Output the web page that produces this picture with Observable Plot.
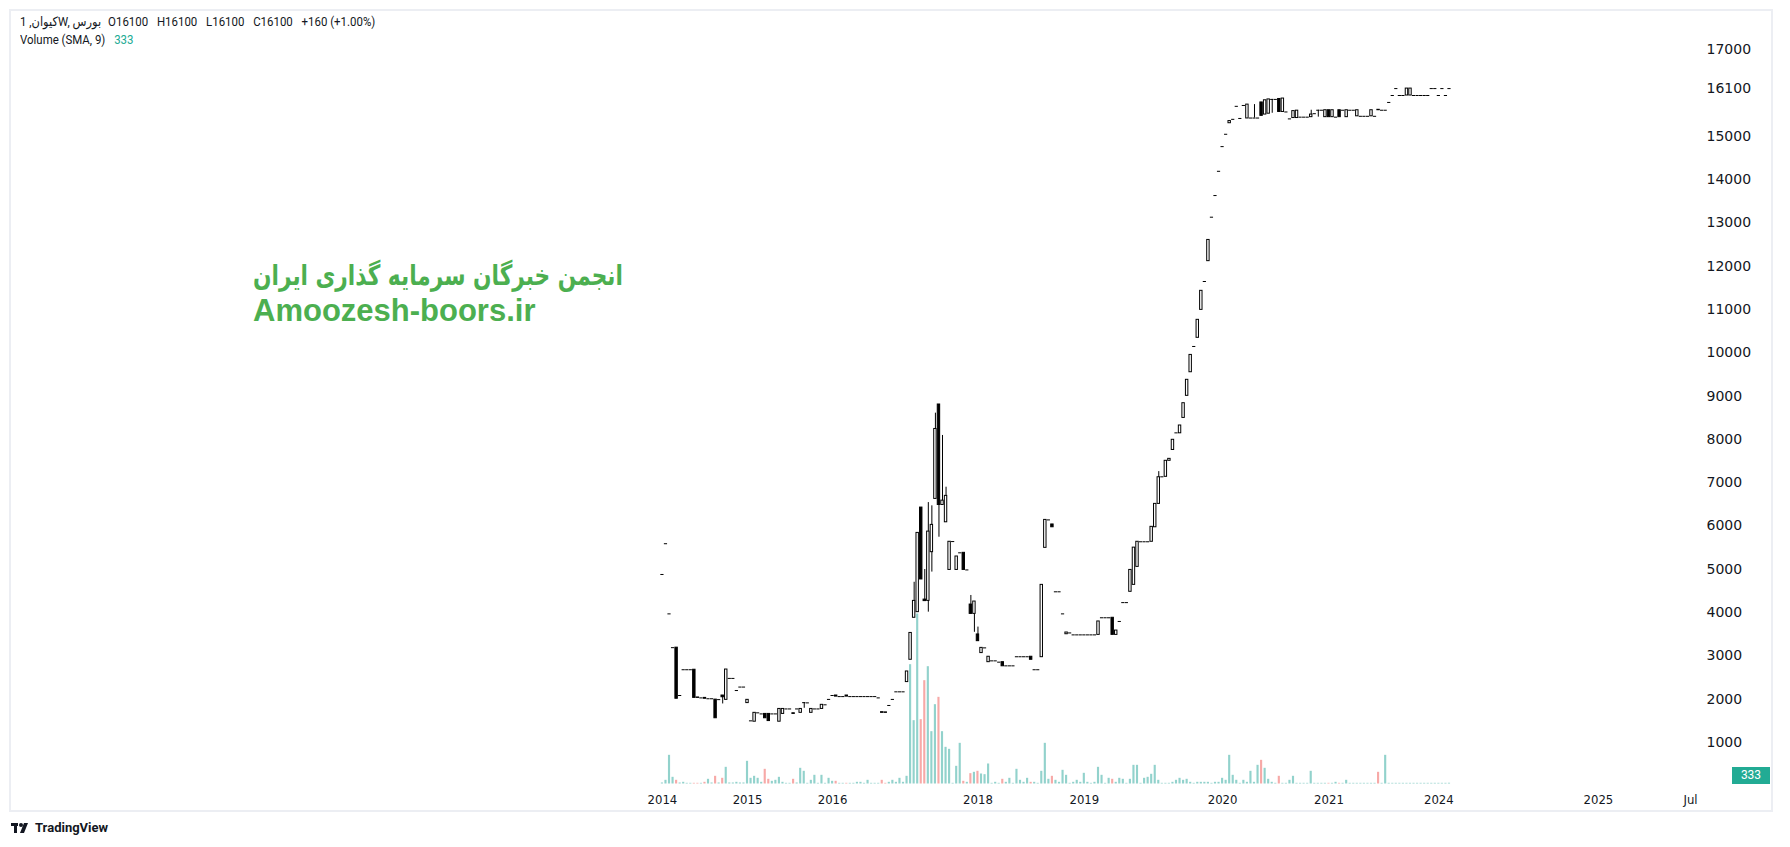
<!DOCTYPE html>
<html><head><meta charset="utf-8">
<script src="https://cdn.jsdelivr.net/npm/d3@7"></script>
<script src="https://cdn.jsdelivr.net/npm/@observablehq/plot@0.6"></script>
<style>
html,body{margin:0;padding:0;background:#fff;width:1790px;height:847px;overflow:hidden;}
#wrap{position:relative;width:1790px;height:847px;font-family:Roboto,"Liberation Sans",sans-serif;color:#131722;}
#frame{position:absolute;left:9px;top:9px;width:1764px;height:803px;border:2px solid #eceef3;box-sizing:border-box;}
#chart{position:absolute;left:0;top:0;}
.hdr{position:absolute;left:20px;font-size:13px;white-space:nowrap;color:#131722;transform:scaleX(0.88);transform-origin:0 0;}
.hdr span{unicode-bidi:isolate;}
.hdr .v{margin-left:10px;}
.ar{font-family:"DejaVu Sans",sans-serif;}
.wm{position:absolute;color:#4caf50;font-weight:bold;white-space:nowrap;}
#badge{position:absolute;left:1732px;top:767px;width:38px;height:17px;background:#22ab94;color:#fff;font-size:12px;line-height:17px;text-align:center;}
#logo{position:absolute;left:11px;top:820px;font-size:13px;font-weight:bold;color:#131722;display:flex;align-items:center;gap:4px;}
</style></head>
<body><div id="wrap">
<div id="frame"></div>
<div id="chart"></div>
<div class="hdr" style="top:14px"><span>1 ,</span><span class="ar">کیوان</span><span>W, </span><span class="ar">بورس</span><span class="v" style="margin-left:8px">O16100</span><span class="v">H16100</span><span class="v">L16100</span><span class="v">C16100</span><span class="v">+160</span> <span>(+1.00%)</span></div>
<div class="hdr" style="top:32px">Volume (SMA, 9)<span style="color:#22ab94;margin-left:10px">333</span></div>
<div class="wm" style="left:253px;top:259px;font-size:28px;font-family:'DejaVu Sans Condensed','DejaVu Sans',sans-serif;transform:scaleX(0.86);transform-origin:0 0;">انجمن خبرگان سرمایه گذاری ایران</div>
<div class="wm" style="left:253px;top:293px;font-size:31px;font-family:'Liberation Sans',sans-serif;">Amoozesh-boors.ir</div>
<div id="badge">333</div>
<div id="logo"><svg width="20" height="12" viewBox="0 0 20 12"><rect x="0" y="1" width="7" height="3" fill="#131722"/><rect x="3" y="1" width="3" height="10" fill="#131722"/><circle cx="10" cy="3" r="2" fill="#131722"/><path d="M13 1h4l-4 10h-4z" fill="#131722"/></svg><span>TradingView</span></div>
</div>
<script>
// Weekly bars (index = bar number, gaps in trading are skipped like the source chart)
const open = [4880,5590,3970,3190,3190,2085,2680,2680,2680,2680,2040,2030,2030,2010,2010,1990,1990,2085,1985,2480,2480,2200,2280,2280,1910,1500,1480,1685,1660,1660,1660,1660,1660,1480,1660,1775,1775,1675,1775,1685,1920,1915,1685,1775,1775,1775,1870,1995,2085,2085,2060,2060,2085,2060,2060,2060,2060,2060,2060,2060,2060,2030,1700,1695,1855,1995,2170,2170,2170,2395,2910,3880,4010,6425,4300,4270,5395,6625,8805,6485,6085,4985,5640,4985,5380,5380,4985,4185,3970,3495,3065,3185,2855,2885,2885,2855,2855,2770,2770,2770,2980,2980,2980,2980,2980,2680,2680,2970,5495,6140,6035,4480,4480,3970,3500,3530,3485,3485,3485,3485,3485,3485,3485,3485,3880,3880,3880,3880,3485,3795,4230,4230,4480,4640,5055,5635,5635,5635,5635,5970,6510,7135,7135,7505,7755,8150,8140,8495,9005,9550,10145,10345,10990,11645,12115,13130,13630,14190,14760,15045,15300,15390,15690,15410,15710,15410,15420,15420,15420,15780,15500,15520,15850,15850,15860,15560,15560,15400,15420,15420,15440,15440,15440,15440,15520,15600,15600,15440,15600,15440,15440,15600,15600,15440,15600,15600,15460,15460,15460,15460,15460,15460,15610,15600,15600,15780,15940,16100,15940,15940,15940,15940,15940,15940,15940,15940,15940,16100,16100,15940,16100,15940,16100];
const high = [4880,5590,3970,3190,3190,2085,2680,2680,2680,2680,2040,2030,2030,2010,2010,1990,1990,2085,2685,2480,2480,2200,2280,2280,1985,1500,1685,1685,1660,1660,1660,1660,1660,1775,1775,1775,1775,1675,1775,1775,1920,1915,1775,1775,1775,1870,1870,1995,2085,2085,2060,2060,2085,2060,2060,2060,2060,2060,2060,2060,2060,2030,1700,1695,1855,1995,2170,2170,2170,2640,3530,4700,5840,6425,4995,6540,6465,8605,8805,8090,6895,5635,5640,5295,5380,5380,4985,4395,4255,3665,3185,3185,2980,2885,2885,2855,2855,2770,2770,2770,2980,2980,2980,2980,2980,2680,2680,4640,6140,6140,6035,4480,4480,3970,3540,3530,3485,3485,3485,3485,3485,3485,3485,3795,3880,3880,3880,3880,3585,3795,4230,4230,4995,5500,5635,5635,5635,5635,5980,6510,7255,7135,7505,7550,7990,8150,8320,8835,9375,9950,10145,10760,11430,11645,12605,13130,13630,14190,14760,15045,15350,15390,15690,15410,15710,15730,15420,15730,15420,15780,15830,15850,15850,15850,15860,15870,15560,15400,15580,15590,15440,15440,15440,15600,15520,15600,15600,15600,15600,15600,15440,15600,15600,15600,15600,15600,15600,15460,15460,15460,15600,15460,15610,15600,15600,15780,15940,16100,15940,15940,16100,16100,15940,15940,15940,15940,15940,16100,16100,15940,16100,15940,16100];
const low = [4880,5590,3970,3190,2010,2085,2680,2680,2680,2030,2030,2030,2010,2010,2010,1560,1990,1890,1985,2480,2480,2200,2280,2280,1910,1500,1480,1685,1660,1560,1495,1660,1660,1480,1660,1775,1775,1660,1775,1685,1790,1915,1685,1775,1775,1775,1870,1995,2085,2060,2060,2060,2060,2060,2060,2060,2060,2060,2060,2060,2060,2030,1685,1685,1855,1995,2170,2170,2170,2395,2910,3880,4010,4765,4265,4010,4935,6625,5740,6485,6085,4985,5640,4985,5380,4985,4985,3970,3545,3340,3065,3185,2855,2885,2885,2855,2760,2770,2770,2770,2980,2980,2980,2980,2910,2680,2680,2970,5495,6140,5970,4480,4480,3970,3500,3530,3485,3485,3485,3485,3485,3485,3485,3485,3880,3880,3880,3485,3485,3795,4230,4230,4480,4640,5055,5635,5635,5635,5635,5970,6510,7135,7135,7505,7755,8150,8140,8495,9005,9550,10145,10345,10990,11645,12115,13130,13630,14190,14760,15045,15300,15390,15690,15410,15710,15410,15420,15420,15420,15470,15500,15520,15530,15850,15560,15560,15560,15400,15420,15420,15440,15440,15440,15440,15520,15440,15600,15440,15440,15440,15440,15440,15600,15440,15600,15600,15460,15460,15460,15460,15460,15460,15600,15600,15600,15780,15940,16100,15940,15940,15940,15940,15940,15940,15940,15940,15940,16100,16100,15940,16100,15940,16100];
const close = [4880,5590,3970,3190,2010,2085,2680,2680,2680,2030,2030,2030,2010,2010,2010,1560,1990,2045,2685,2480,2480,2200,2280,2280,1985,1500,1685,1685,1660,1560,1495,1660,1660,1775,1775,1775,1775,1660,1775,1775,1920,1915,1775,1775,1775,1870,1870,1995,2085,2060,2060,2060,2060,2060,2060,2060,2060,2060,2060,2060,2060,2030,1685,1685,1855,1995,2170,2170,2170,2640,3530,4270,5840,4765,4265,5870,6025,8240,6485,6585,6695,5635,5640,5295,5380,4985,4985,3970,4255,3340,3185,3185,2980,2885,2885,2855,2760,2770,2770,2770,2980,2980,2980,2980,2910,2680,2680,4640,6140,6140,5970,4480,4480,3970,3540,3530,3485,3485,3485,3485,3485,3485,3485,3795,3880,3880,3880,3485,3585,3795,4230,4230,4985,5500,5635,5635,5635,5635,5980,6510,7125,7135,7505,7550,7990,8150,8320,8835,9375,9950,10145,10760,11430,11645,12605,13130,13630,14190,14760,15045,15350,15390,15690,15410,15710,15730,15420,15420,15420,15470,15830,15850,15850,15850,15560,15870,15560,15400,15580,15590,15440,15440,15440,15500,15520,15600,15600,15600,15440,15600,15440,15440,15600,15600,15600,15600,15600,15460,15460,15460,15600,15460,15600,15600,15600,15780,15940,16100,15940,15940,16100,16100,15940,15940,15940,15940,15940,16100,16100,15940,16100,15940,16100];
const volume = [450,1650,12900,3000,1650,450,750,300,300,300,300,300,750,2100,450,3450,450,2550,7500,450,450,750,450,450,10200,2550,3450,2550,750,6600,2100,1200,1650,3000,750,300,300,2100,450,7050,5700,300,1650,3900,300,3900,300,2550,1200,1200,300,300,300,300,300,750,750,300,1650,300,300,300,1650,300,750,1650,750,2550,750,3450,53700,28500,76500,28950,46500,52800,23550,35700,39000,23550,16500,15600,300,7950,18300,1200,750,4650,5250,5700,4500,4200,9000,300,750,300,2100,750,2550,300,6600,1650,750,2550,750,750,300,5700,18300,2100,3450,1650,750,6150,3900,300,750,1650,750,4800,750,300,750,7500,3900,300,2550,2100,750,2550,2100,300,2100,8400,8400,300,2550,3000,4350,8400,1650,300,300,300,750,1650,2550,1650,2100,750,300,750,750,750,750,300,750,750,2550,1650,12900,3900,1650,300,1650,750,5700,750,8400,10650,7050,2100,750,300,3450,300,300,1650,3450,300,300,300,300,5700,300,300,300,300,300,300,750,300,300,1650,300,300,300,300,300,300,300,300,5250,300,12900,300,300,300,300,300,300,300,300,300,300,300,300,300,300,300,300,300,333];
// time-axis labels (bar index where each label sits)
const tickIdx = [0,24,48,89,119,158,188,219,264,290];
const tickLabels = ["2014","2015","2016","2018","2019","2020","2021","2024","2025","Jul"];
// price-axis labels
const priceTicks = [1000,2000,3000,4000,5000,6000,7000,8000,9000,10000,11000,12000,13000,14000,15000,16100,17000];

const bars = open.map((o,i)=>({i, o, h: high[i], l: low[i], c: close[i], v: volume[i]}));
const VOL_BASE = 42, VOL_K = 0.0513; // volume overlay mapped into the bottom of the price pane
const up = "rgba(38,166,154,0.5)", down = "rgba(239,83,80,0.5)";

const chart = Plot.plot({
  width: 1790, height: 847,
  marginTop: 11, marginBottom: 61, marginLeft: 11, marginRight: 90,
  x: {type: "linear", domain: [-183.6, 292.8], axis: null, label: null},
  y: {type: "linear", domain: [-16, 17880], axis: null, label: null},
  style: {background: "transparent", color: "#131722", fontFamily: "Roboto, 'Liberation Sans', sans-serif", fontSize: "12px"},
  marks: [
    Plot.rect(bars, {x1: d => d.i - 0.3, x2: d => d.i + 0.3, y1: VOL_BASE, y2: d => VOL_BASE + d.v * VOL_K, fill: d => d.c < d.o ? down : up}),
    Plot.ruleX(bars.filter(d => d.h > Math.max(d.o, d.c) || d.l < Math.min(d.o, d.c)), {x: "i", y1: "l", y2: "h", stroke: "#000", strokeWidth: 1}),
    Plot.rect(bars.filter(d => d.o !== d.c), {x1: d => d.i - 0.34, x2: d => d.i + 0.34, y1: d => Math.min(d.o, d.c), y2: d => Math.max(d.o, d.c), fill: d => d.c < d.o ? "#000" : "#fff", stroke: "#000", strokeWidth: 1}),
    Plot.ruleY(bars.filter(d => d.o === d.c), {y: "c", x1: d => d.i - 0.45, x2: d => d.i + 0.45, stroke: "#000", strokeWidth: 1}),
    Plot.axisX(tickIdx, {anchor: "bottom", label: null, tickSize: 0, tickPadding: 8, tickFormat: (d, i) => tickLabels[i], fontSize: 13, fontFamily: "'DejaVu Sans Condensed', 'DejaVu Sans', sans-serif"}),
    Plot.axisY(priceTicks, {anchor: "right", label: null, tickSize: 0, tickPadding: 6, tickFormat: d => String(d), textAnchor: "start", fontSize: 14, fontFamily: "'DejaVu Sans', sans-serif"})
  ]
});
document.getElementById("chart").appendChild(chart);
</script>
</body></html>
